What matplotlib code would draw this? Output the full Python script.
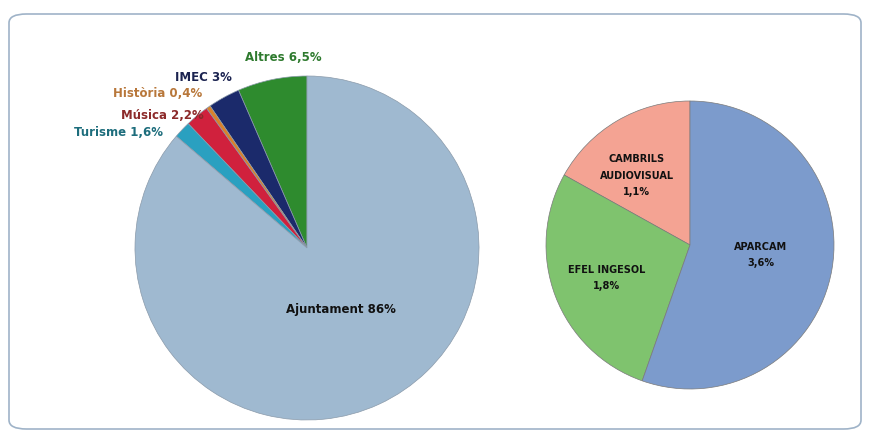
import matplotlib.pyplot as plt
from matplotlib.patches import FancyBboxPatch

# dades
left_labels = ['Altres 6,5%', 'IMEC 3%', 'Història 0,4%', 'Música 2,2%', 'Turisme 1,6%', 'Ajuntament 86%']
left_values = [6.5, 3, 0.4, 2.2, 1.6, 86]
left_colors = ['#2e8b2e', '#1b2a6b', '#d9822b', '#d0213d', '#2aa0c0', '#9fb9d0']
left_text_colors = ['#2e7a2e', '#1b2350', '#b8773a', '#8c2a2a', '#1d6d7c', '#111111']

right_labels = ['CAMBRILS\nAUDIOVISUAL\n1,1%', 'EFEL INGESOL\n1,8%', 'APARCAM\n3,6%']
right_values = [1.1, 1.8, 3.6]
right_colors = ['#f4a393', '#7fc36e', '#7c9bcc']

W, H = 871, 443
fig = plt.figure(figsize=(W / 100, H / 100), dpi=100)
plt.rcParams['font.family'] = ['DejaVu Sans']

# marc arrodonit
frame = FancyBboxPatch((9 / W, 14 / H), 852 / W, 415 / H,
                       boxstyle='round,pad=0,rounding_size=0.02',
                       transform=fig.transFigure, fill=False,
                       edgecolor='#9fb3c8', linewidth=1.2)
fig.patches.append(frame)

def make_ax(cx, cy, r):
    ax = fig.add_axes([(cx - r) / W, (H - cy - r) / H, 2 * r / W, 2 * r / H])
    ax.axis('off')
    return ax

ax1 = make_ax(307, 248, 172)
ax1.pie(left_values, colors=left_colors, startangle=90, counterclock=True,
        radius=1, wedgeprops=dict(edgecolor='#8a9aaa', linewidth=0.5))
ax1.set_xlim(-1, 1)
ax1.set_ylim(-1, 1)

# posicions de les etiquetes (unitats del radi)
left_pos = [(-0.14, 1.11, 'center'), (-0.60, 0.99, 'center'), (-0.61, 0.90, 'right'),
            (-0.60, 0.77, 'right'), (-0.84, 0.67, 'right'), (0.20, -0.36, 'center')]
for lab, col, (x, y, ha) in zip(left_labels, left_text_colors, left_pos):
    ax1.text(x, y, lab, color=col, fontsize=8.5, fontweight='bold', ha=ha, va='center')

ax2 = make_ax(690, 245, 144)
ax2.pie(right_values, colors=right_colors, startangle=90, counterclock=True,
        radius=1, wedgeprops=dict(edgecolor='#7a7a7a', linewidth=0.5))
ax2.set_xlim(-1, 1)
ax2.set_ylim(-1, 1)

right_pos = [(-0.37, 0.48), (-0.58, -0.23), (0.49, -0.07)]
for lab, (x, y) in zip(right_labels, right_pos):
    ax2.text(x, y, lab, color='#111111', fontsize=7, fontweight='bold',
             ha='center', va='center', linespacing=1.8)

fig.savefig('out.png', dpi=100)
